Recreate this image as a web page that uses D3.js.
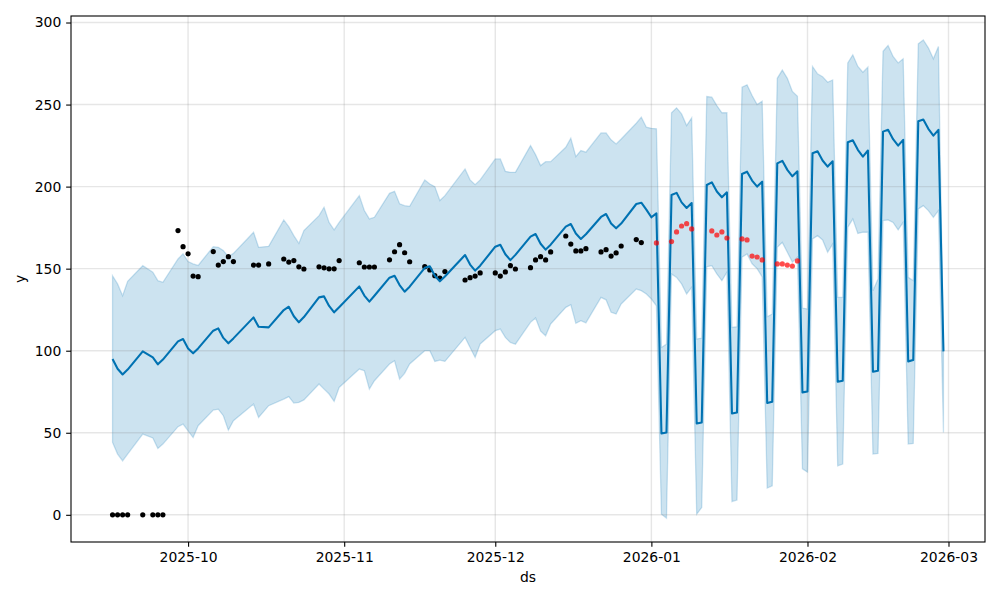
<!DOCTYPE html>
<html>
<head>
<meta charset="utf-8">
<script src="https://cdn.jsdelivr.net/npm/d3@7"></script>
<style>
  body { margin: 0; background: #fff; }
  svg { display: block; font-family: "DejaVu Sans", sans-serif; }
</style>
</head>
<body>
<svg id="chart" width="1000" height="600"></svg>
<script>
// observed history (weekdays with data)
const histDates = [
  "2025-09-16","2025-09-17","2025-09-18","2025-09-19","2025-09-22","2025-09-24","2025-09-25","2025-09-26","2025-09-29","2025-09-30",
  "2025-10-01","2025-10-02","2025-10-03","2025-10-06","2025-10-07","2025-10-08","2025-10-09","2025-10-10","2025-10-14","2025-10-15",
  "2025-10-17","2025-10-20","2025-10-21","2025-10-22","2025-10-23","2025-10-24","2025-10-27","2025-10-28","2025-10-29","2025-10-30",
  "2025-10-31","2025-11-04","2025-11-05","2025-11-06","2025-11-07","2025-11-10","2025-11-11","2025-11-12","2025-11-13","2025-11-14",
  "2025-11-17","2025-11-18","2025-11-19","2025-11-20","2025-11-21","2025-11-25","2025-11-26","2025-11-27","2025-11-28","2025-12-01",
  "2025-12-02","2025-12-03","2025-12-04","2025-12-05","2025-12-08","2025-12-09","2025-12-10","2025-12-11","2025-12-12","2025-12-15",
  "2025-12-16","2025-12-17","2025-12-18","2025-12-19","2025-12-22","2025-12-23","2025-12-24","2025-12-25","2025-12-26","2025-12-29",
  "2025-12-30"
];
const histY = [
  0, 0, 0, 0, 0, 0, 0, 0, 173.2, 163.4,
  159, 145.5, 145.1, 160.4, 152.2, 154.3, 157.3, 154.3, 152.2, 152.2,
  152.9, 155.9, 154, 154.9, 151.1, 149.8, 151.1, 150.5, 149.9, 149.9,
  154.9, 153.6, 151, 151, 151, 155.4, 160.3, 164.6, 159.7, 154.2,
  151.2, 149.2, 145.7, 144.3, 148.2, 143.1, 144.5, 145.5, 147.4, 147.4,
  145.5, 148, 151.8, 149.8, 150.6, 155.3, 157.3, 155.3, 160.2, 169.9,
  165, 160.8, 160.8, 162.2, 160.2, 161.6, 157.7, 159.6, 163.8, 167.7,
  165.9
];
const histYhat = [
  95, 89, 85.5, 88.5, 99.6, 95.9, 91.7, 94.6, 105.7, 107.1,
  101.3, 98.4, 101.4, 112.2, 113.6, 107.8, 104.5, 107.5, 120.3, 114.6,
  114.2, 124.8, 126.8, 121, 117.3, 120.5, 132.5, 133.1, 127.3, 123.4,
  126.5, 139.2, 133.6, 129.9, 133.5, 144.5, 145.7, 140, 136, 139,
  150.5, 151.5, 145.7, 142.3, 145.2, 158.3, 152.5, 148.8, 151.8, 163.4,
  164.6, 158.8, 155.2, 158.4, 169.5, 171.1, 165.2, 161.6, 164.6, 175.6,
  177.2, 171.4, 168.1, 171, 181.5, 183.3, 177.5, 174.6, 177.5, 189.4,
  190.2
];
const histUpper = [
  145.7, 140.7, 133.5, 142.3, 151.8, 147.8, 142.7, 141.7, 155.9, 159,
  154.3, 152.9, 152, 163.4, 163, 161, 157.3, 159.3, 172.2, 163,
  163.6, 179.7, 175.6, 170.1, 165.4, 173.2, 182.3, 187.4, 178.2, 173.6,
  178.2, 194.5, 185.4, 180.3, 181.3, 195.9, 197.1, 189.5, 188.4, 188,
  204.1, 201.6, 200, 191.5, 194.5, 210.8, 204.1, 201.2, 204.1, 216.9,
  216.9, 209.3, 208.7, 208.7, 225, 219.5, 212.8, 215.2, 215.2, 224,
  229.5, 218.3, 222, 221, 232.7, 232.7, 228.5, 226, 229, 238.6,
  242.3
];
const histLower = [
  44.1, 37, 32.9, 37, 49.2, 46.8, 40.4, 43.1, 53.7, 55.3,
  51.2, 47.1, 54.3, 63.8, 64.4, 60.4, 51.6, 57.3, 67.5, 59.3,
  66.5, 70.5, 72, 68.1, 68.5, 70, 79.7, 76.6, 73.6, 69.1,
  77.6, 88.8, 87.8, 76.6, 81.7, 91.9, 93.9, 82.7, 86.2, 91.9,
  100, 100, 93.5, 94.3, 93.5, 108.1, 102, 95.9, 104.1, 112.2,
  113.2, 108.1, 105, 104, 117.3, 120, 112, 109.1, 116.3, 126.4,
  128, 116.7, 118.3, 117, 132.5, 131, 123.4, 122.4, 128.5, 137.6,
  136.6
];

// future: one value per calendar day, 2025-12-31 .. 2026-02-28
const futureStart = "2025-12-31";
const futureEnd = "2026-03-01";
const futYhat = [
  186, 181.3, 183.7, 49.6, 50.2, 194.9, 196.2, 190.4, 187, 190,
  55.7, 56.3, 201, 202.6, 197, 193.5, 196.5, 61.8, 62.4, 207.7,
  209.1, 203.7, 200, 203, 68.1, 68.9, 214.2, 215.7, 210.2, 206.3,
  209.3, 74.6, 75.2, 220.3, 221.5, 215.9, 212.2, 215.4, 81.1, 81.7,
  227, 228.2, 222.4, 218.3, 222, 87.2, 87.8, 233.5, 234.6, 228.9,
  225, 228.5, 93.5, 94.3, 239.8, 240.9, 235.2, 231.1, 234.6, 99.6
];
const futUpper = [
  236.2, 235.5, 235.2, 102, 104, 245, 248, 244.3, 237.2, 241.9,
  107.1, 107.7, 254.9, 254.5, 249.4, 245, 245, 114.2, 114.6, 260.6,
  262, 255.5, 250, 252, 120.7, 122.4, 266, 271, 266, 258,
  255, 126, 125.4, 273.2, 268.7, 267, 263.6, 265, 132.5, 132.5,
  275.4, 280.3, 273.2, 269.7, 272.8, 136.6, 143.7, 282.5, 286, 279.3,
  275.4, 277.9, 144.7, 142.7, 287, 289.4, 284.6, 277.9, 285.4, 103
];
const futLower = [
  134.6, 131.5, 127.4, 0.4, -2, 146.8, 144.7, 140.7, 134.6, 138.6,
  0.4, 4.5, 151.2, 151.8, 146.8, 142.7, 147.8, 8.1, 9, 157,
  159, 153, 150, 145, 16.3, 17.7, 163, 166, 160, 154,
  157, 28, 26, 168.1, 170.1, 167.5, 160, 165, 29.9, 30.9,
  175.2, 180.3, 171.5, 172.2, 172.2, 37, 37.4, 179.3, 179.7, 178.2,
  173.6, 178.2, 43.1, 43.5, 186.4, 188.4, 185.4, 181.3, 185.4, 50.2
];

// held-out actuals
const testDates = [
  "2026-01-02","2026-01-05","2026-01-06","2026-01-07","2026-01-08","2026-01-09",
  "2026-01-13","2026-01-14","2026-01-15","2026-01-16",
  "2026-01-19","2026-01-20","2026-01-21","2026-01-22","2026-01-23",
  "2026-01-26","2026-01-27","2026-01-28","2026-01-29","2026-01-30"
];
const testY = [
  165.7, 166.5, 172.4, 176, 177.4, 174.2,
  173, 170.5, 172.4, 168.7,
  168.1, 167.5, 157.7, 157.1, 155.3,
  152.9, 152.9, 152.2, 151.6, 154.7
];

const yTicks = [0, 50, 100, 150, 200, 250, 300];

const parse = d3.utcParse("%Y-%m-%d");
const futDates = d3.utcDay.range(parse(futureStart), parse(futureEnd));

const fcst = histDates.map((d, i) => ({ ds: parse(d), yhat: histYhat[i], lo: histLower[i], hi: histUpper[i] }))
  .concat(futDates.map((d, i) => ({ ds: d, yhat: futYhat[i], lo: futLower[i], hi: futUpper[i] })));
const hist = histDates.map((d, i) => ({ ds: parse(d), y: histY[i] }));
const test = testDates.map((d, i) => ({ ds: parse(d), y: testY[i] }));

const plotL = 71, plotR = 985, plotT = 16, plotB = 542;

const xExt = d3.extent(fcst, d => d.ds);
const xPad = (xExt[1] - xExt[0]) * 0.05;
const x = d3.scaleUtc()
  .domain([new Date(+xExt[0] - xPad), new Date(+xExt[1] + xPad)])
  .range([plotL, plotR]);

const yMin = d3.min([d3.min(fcst, d => d.lo), d3.min(hist, d => d.y)]);
const yMax = d3.max([d3.max(fcst, d => d.hi), d3.max(hist, d => d.y)]);
const yPad = (yMax - yMin) * 0.05;
const y = d3.scaleLinear().domain([yMin - yPad, yMax + yPad]).range([plotB, plotT]);

const svg = d3.select("#chart");
const blue = "#0072B2";
const tick = 4.86;

// band (drawn below the grid like matplotlib)
svg.append("path")
  .datum(fcst)
  .attr("d", d3.area().x(d => x(d.ds)).y0(d => y(d.lo)).y1(d => y(d.hi)))
  .attr("fill", blue)
  .attr("fill-opacity", 0.2)
  .attr("stroke", blue)
  .attr("stroke-opacity", 0.2)
  .attr("stroke-width", 1.3);

// grid
const xTicks = x.ticks(d3.utcMonth.every(1));
svg.append("g")
  .selectAll("line")
  .data(xTicks)
  .join("line")
  .attr("x1", d => x(d)).attr("x2", d => x(d))
  .attr("y1", plotT).attr("y2", plotB)
  .attr("stroke", "rgba(128,128,128,0.2)")
  .attr("stroke-width", 1.39);
svg.append("g")
  .selectAll("line")
  .data(yTicks)
  .join("line")
  .attr("x1", plotL).attr("x2", plotR)
  .attr("y1", d => y(d)).attr("y2", d => y(d))
  .attr("stroke", "rgba(128,128,128,0.2)")
  .attr("stroke-width", 1.39);

// history points
svg.append("g")
  .selectAll("circle")
  .data(hist)
  .join("circle")
  .attr("cx", d => x(d.ds))
  .attr("cy", d => y(d.y))
  .attr("r", 2.6)
  .attr("fill", "#000");

// forecast line
svg.append("path")
  .datum(fcst)
  .attr("d", d3.line().x(d => x(d.ds)).y(d => y(d.yhat)))
  .attr("fill", "none")
  .attr("stroke", blue)
  .attr("stroke-width", 2.08)
  .attr("stroke-linejoin", "round");

// held-out points
svg.append("g")
  .selectAll("circle")
  .data(test)
  .join("circle")
  .attr("cx", d => x(d.ds))
  .attr("cy", d => y(d.y))
  .attr("r", 2.6)
  .attr("fill", "red")
  .attr("fill-opacity", 0.7);

// axes
const xAxis = svg.append("g")
  .attr("transform", `translate(0,${plotB})`)
  .call(d3.axisBottom(x).tickValues(xTicks).tickFormat(d3.utcFormat("%Y-%m")).tickSize(tick).tickPadding(4.86).tickSizeOuter(0));
const yAxis = svg.append("g")
  .attr("transform", `translate(${plotL},0)`)
  .call(d3.axisLeft(y).tickValues(yTicks).tickSize(tick).tickPadding(4.86).tickSizeOuter(0));

[xAxis, yAxis].forEach(g => {
  g.select(".domain").remove();
  g.selectAll(".tick line").attr("stroke", "#000").attr("stroke-width", 1.1);
  g.selectAll(".tick text").attr("fill", "#000").style("font-size", "13.9px").style("font-family", "DejaVu Sans");
});

svg.append("rect")
  .attr("x", plotL).attr("y", plotT)
  .attr("width", plotR - plotL).attr("height", plotB - plotT)
  .attr("fill", "none")
  .attr("stroke", "#000")
  .attr("stroke-width", 1.1);

svg.append("text")
  .attr("x", (plotL + plotR) / 2)
  .attr("y", 582)
  .attr("text-anchor", "middle")
  .style("font-size", "13.9px")
  .text("ds");

svg.append("text")
  .attr("transform", `translate(25,${(plotT + plotB) / 2}) rotate(-90)`)
  .attr("text-anchor", "middle")
  .style("font-size", "13.9px")
  .text("y");
</script>
</body>
</html>
